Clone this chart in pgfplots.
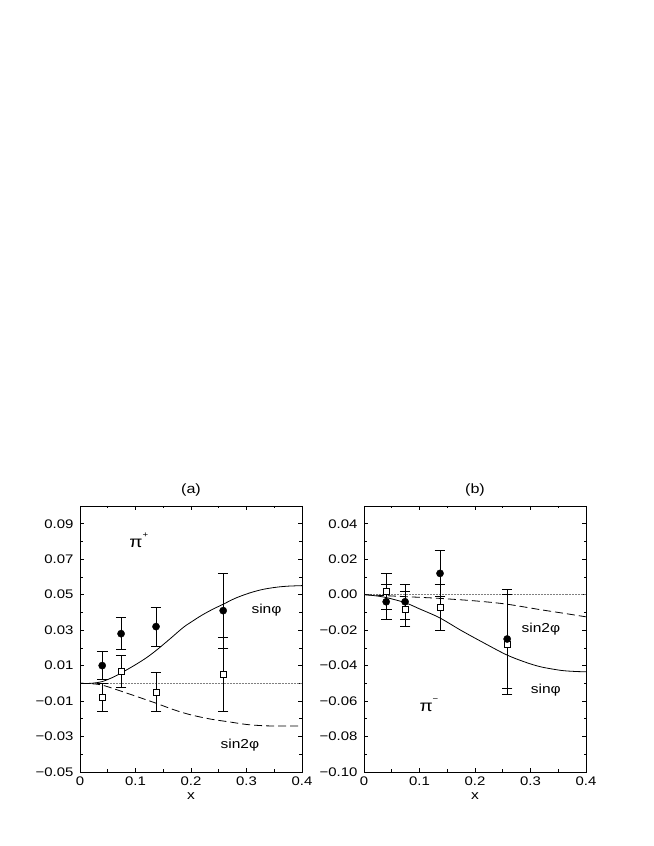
\documentclass[border=0pt]{standalone}
\usepackage{pgfplots}
\pgfplotsset{compat=1.18}
\usepackage{fontspec}
\setmainfont{Liberation Sans}[FakeStretch=1.2]

\pgfplotsset{
  panel/.style={
    width=222bp, height=266bp, scale only axis,
    xmin=0, xmax=0.4,
    xtick={0,0.1,0.2,0.3,0.4},
    xticklabels={0,0.1,0.2,0.3,0.4},
    minor x tick num=1, minor y tick num=1,
    tick align=inside,
    major tick length=4bp, minor tick length=2.5bp,
    xlabel={x},
    /pgf/number format/assume math mode=true,
    tick label style={font=\fontsize{12.5}{14}\selectfont},
    label style={font=\fontsize{13}{15}\selectfont},
    title style={font=\fontsize{13.5}{15}\selectfont},
    axis line style={line width=0.8bp},
    every tick/.style={black, line width=0.6bp},
    xticklabel style={yshift=-1bp},
    yticklabel style={xshift=-3bp},
  },
  sinphi/.style={black, mark=*, mark size=3.6bp, only marks,
    mark options={fill=black},
    error bars/.cd, y dir=both, y explicit,
    error bar style={line width=0.7bp},
    error mark options={rotate=90, mark size=5.3bp, line width=0.7bp}},
  sintwophi/.style={black, mark=square*, mark size=3bp, only marks,
    mark options={fill=white, line width=0.6bp},
    error bars/.cd, y dir=both, y explicit,
    error bar style={line width=0.7bp},
    error mark options={rotate=90, mark size=5.3bp, line width=0.7bp}},
  curve/.style={black, no marks, line width=0.8bp, smooth},
  dcurve/.style={black, no marks, line width=0.8bp, smooth, dash pattern=on 8bp off 4bp},
  zeroline/.style={gray, no marks, line width=0.5bp, densely dotted},
}

\begin{document}
\begin{tikzpicture}
\path[use as bounding box] (0,0) rectangle (654bp,846bp);

% (a) pi+
\begin{axis}[panel, at={(80bp,74bp)}, anchor=south west,
  title={(a)},
  ymin=-0.05, ymax=0.10,
  ytick={-0.05,-0.03,-0.01,0.01,0.03,0.05,0.07,0.09},
  yticklabels={−0.05,−0.03,−0.01,0.01,0.03,0.05,0.07,0.09}]
\addplot[zeroline] coordinates {(0,0) (0.4,0)};
\addplot[curve] coordinates {(0,0) (0.02,0.0) (0.04,0.001) (0.06,0.0035)
  (0.074,0.0058) (0.1,0.0105) (0.12,0.0145) (0.137,0.0185) (0.16,0.0245)
  (0.186,0.0315) (0.2,0.0345) (0.22,0.0385) (0.24,0.0419) (0.258,0.0446)
  (0.28,0.0480) (0.306,0.0510) (0.33,0.0530) (0.354,0.0542) (0.375,0.0548) (0.4,0.0551)};
\addplot[dcurve] coordinates {(0,0) (0.02,-0.0002) (0.04,-0.001) (0.07,-0.004)
  (0.1,-0.0072) (0.137,-0.0112) (0.17,-0.0150) (0.2,-0.0178) (0.236,-0.0202)
  (0.27,-0.0218) (0.3,-0.0232) (0.33,-0.0239) (0.36,-0.0241) (0.4,-0.0241)};
\addplot[sintwophi] coordinates {
  (0.040,-0.008) +- (0,0.008)
  (0.074,0.007) +- (0,0.009)
  (0.137,-0.005) +- (0,0.011)
  (0.258,0.005) +- (0,0.021)};
\addplot[sinphi] coordinates {
  (0.040,0.010) +- (0,0.008)
  (0.074,0.028) +- (0,0.009)
  (0.137,0.032) +- (0,0.011)
  (0.258,0.041) +- (0,0.021)};
\node[font=\fontsize{16}{18}\selectfont] at (axis cs:0.106,0.0805) {π\raisebox{1.2ex}{\fontsize{8}{9}\selectfont +}};
\node[font=\fontsize{13}{15}\selectfont] at (axis cs:0.336,0.041) {sinφ};
\node[font=\fontsize{13}{15}\selectfont] at (axis cs:0.288,-0.0348) {sin2φ};
\end{axis}

% (b) pi-
\begin{axis}[panel, at={(364bp,74bp)}, anchor=south west,
  title={(b)},
  ymin=-0.10, ymax=0.05,
  ytick={-0.10,-0.08,-0.06,-0.04,-0.02,0,0.02,0.04},
  yticklabels={−0.10,−0.08,−0.06,−0.04,−0.02,0.00,0.02,0.04}]
\addplot[zeroline] coordinates {(0,0) (0.4,0)};
\addplot[curve] coordinates {(0,0) (0.02,-0.0006) (0.041,-0.0017) (0.074,-0.0045)
  (0.1,-0.0080) (0.136,-0.0130) (0.174,-0.0200) (0.21,-0.0262) (0.256,-0.0338)
  (0.29,-0.0380) (0.3185,-0.0407) (0.355,-0.0427) (0.38,-0.0433) (0.4,-0.0435)};
\addplot[dcurve] coordinates {(0,0) (0.041,-0.0006) (0.1,-0.0015) (0.136,-0.0021)
  (0.2,-0.0035) (0.256,-0.0053) (0.3185,-0.0085) (0.36,-0.0105) (0.4,-0.0125)};
\addplot[sintwophi] coordinates {
  (0.040,0.002) +- (0,0.010)
  (0.074,-0.008) +- (0,0.010)
  (0.137,-0.007) +- (0,0.013)
  (0.258,-0.028) +- (0,0.028)};
\addplot[sinphi] coordinates {
  (0.040,-0.004) +- (0,0.010)
  (0.074,-0.004) +- (0,0.010)
  (0.137,0.012) +- (0,0.013)
  (0.258,-0.025) +- (0,0.028)};
\node[font=\fontsize{16}{18}\selectfont] at (axis cs:0.117,-0.0625) {π\raisebox{1.2ex}{\fontsize{8}{9}\selectfont −}};
\node[font=\fontsize{13}{15}\selectfont] at (axis cs:0.3276,-0.0536) {sinφ};
\node[font=\fontsize{13}{15}\selectfont] at (axis cs:0.3186,-0.0196) {sin2φ};
\end{axis}
\end{tikzpicture}
\end{document}
